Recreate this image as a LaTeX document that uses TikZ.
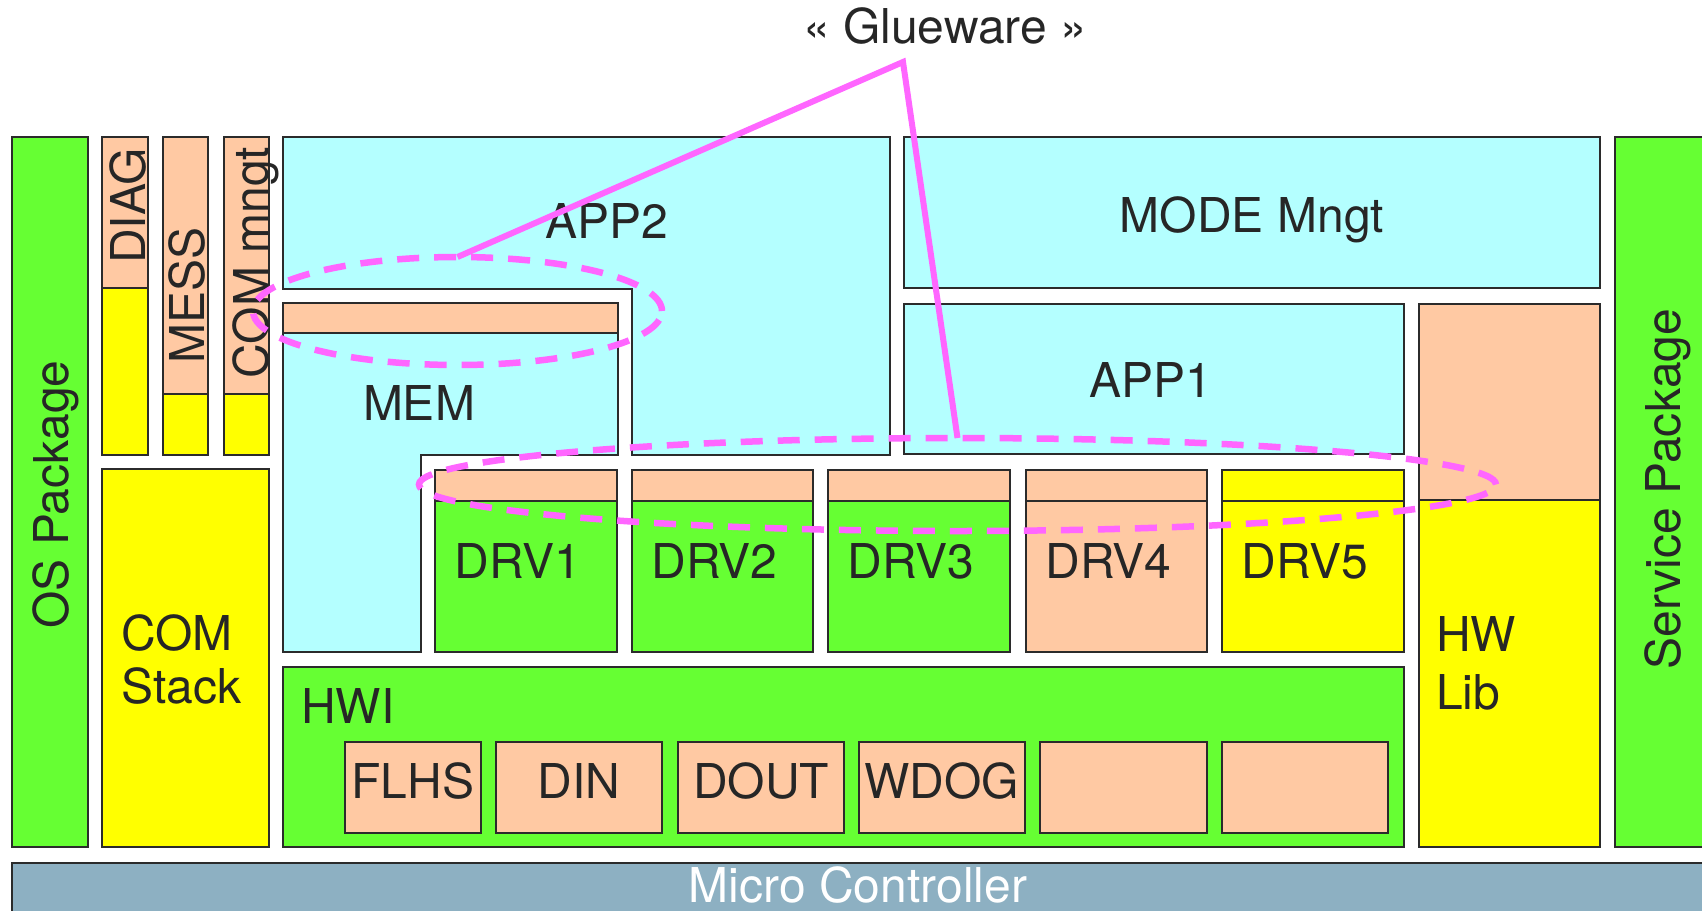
\documentclass[tikz,border=0pt]{standalone}
\usepackage{fontspec}
\setmainfont{TeX Gyre Heros}
\usetikzlibrary{shapes.geometric}

\definecolor{grn}{HTML}{66FF33}
\definecolor{slm}{HTML}{FFC9A3}
\definecolor{ylw}{HTML}{FFFF00}
\definecolor{cyn}{HTML}{B4FFFF}
\definecolor{mcu}{HTML}{8DB0C2}
\definecolor{edge}{HTML}{2B2B2B}
\definecolor{ink}{HTML}{262626}
\definecolor{glue}{HTML}{FF66FF}

\begin{document}
\begin{tikzpicture}[x=1pt,y=-1pt,
  blk/.style={draw=edge, line width=2.4pt, line join=miter},
  lbl/.style={text=ink, font=\fontsize{48}{54}\selectfont, inner sep=0pt},
  vlbl/.style={lbl, rotate=90, anchor=base},
  glueline/.style={draw=glue, line width=6pt},
  gluering/.style={ellipse, draw=glue, line width=6.5pt,
    dash pattern=on 22pt off 15pt, inner sep=0pt, outer sep=0pt},
]
\useasboundingbox (0,0) rectangle (1702,910);

% side packages
\path[blk, fill=grn] (12,137) rectangle (88,847);
\path[blk, fill=grn] (1615,137) rectangle (1712,847);

% DIAG / MESS / COM mngt columns
\path[blk, fill=slm] (102,137) rectangle (148,288);
\path[blk, fill=ylw] (102,288) rectangle (148,455);
\path[blk, fill=slm] (163,137) rectangle (208,394);
\path[blk, fill=ylw] (163,394) rectangle (208,455);
\path[blk, fill=slm] (224,137) rectangle (269,394);
\path[blk, fill=ylw] (224,394) rectangle (269,455);

% COM stack
\path[blk, fill=ylw] (102,469) rectangle (269,847);

% application layer
\path[blk, fill=cyn] (283,137) -- (890,137) -- (890,455) -- (632,455)
  -- (632,289) -- (283,289) -- cycle;
\path[blk, fill=cyn] (283,303) -- (618,303) -- (618,455) -- (421,455)
  -- (421,652) -- (283,652) -- cycle;
\path[blk, fill=slm] (283,303) rectangle (618,333);
\path[blk, fill=cyn] (904,137) rectangle (1600,288);
\path[blk, fill=cyn] (904,304) rectangle (1404,454);

% HW library
\path[blk, fill=slm] (1419,304) rectangle (1600,500);
\path[blk, fill=ylw] (1419,500) rectangle (1600,847);

% drivers
\foreach \xa/\xb/\ct/\cb/\name [count=\i] in
  {435/617/slm/grn/DRV1, 632/813/slm/grn/DRV2, 828/1010/slm/grn/DRV3,
   1026/1207/slm/slm/DRV4, 1222/1404/ylw/ylw/DRV5} {
  \path[blk, fill=\ct] (\xa,470) rectangle (\xb,501);
  \path[blk, fill=\cb] (\xa,501) rectangle (\xb,652);
  \node[lbl, anchor=base] (drv\i) at ({(\xa+\xb)/2-8},578) {\name};
}

% hardware interface
\path[blk, fill=grn] (283,667) rectangle (1404,847);
\foreach \xa/\xb in {345/481, 496/662, 678/844, 859/1025, 1040/1207, 1222/1388}
  \path[blk, fill=slm] (\xa,742) rectangle (\xb,833);
\foreach \xa/\xb/\name [count=\i] in {345/481/FLHS, 496/662/DIN, 678/844/DOUT, 859/1025/WDOG}
  \node[lbl, anchor=base] (hwi\i) at ({(\xa+\xb)/2},798) {\name};

% micro controller
\path[blk, fill=mcu] (12,863) rectangle (1712,914);

% labels
\node[vlbl] (oslbl) at (68,494.5) {OS Package};
\node[vlbl] (svclbl) at (1680,489) {Service Package};
\node[vlbl] (diaglbl) at (145,206) {DIAG};
\node[vlbl] (messlbl) at (204,295) {MESS};
\node[vlbl] (comlbl) at (268,262.5) {COM mngt};
\node[lbl, anchor=base west] (comstack1) at (121,650) {COM};
\node[lbl, anchor=base west] (comstack2) at (121,703) {Stack};
\node[lbl, anchor=base] (app2lbl) at (607,238) {APP2};
\node[lbl, anchor=base] (memlbl) at (419,420) {MEM};
\node[lbl, anchor=base] (modelbl) at (1252,232) {MODE Mngt};
\node[lbl, anchor=base] (app1lbl) at (1151,397) {APP1};
\node[lbl, anchor=base west] (hwlib1) at (1436,651) {HW};
\node[lbl, anchor=base west] (hwlib2) at (1436,709) {Lib};
\node[lbl, anchor=base west] (hwilbl) at (301,723) {HWI};
\node[lbl, text=white, anchor=base] (mculbl) at (858,902) {Micro Controller};

% glueware marking
\node[lbl, anchor=base] (gluelbl) at (945,43) {« Glueware »};
\node[gluering, minimum width=409pt, minimum height=108pt] (ring1) at (457.5,311) {};
\node[gluering, minimum width=1077pt, minimum height=93pt] (ring2) at (957.5,484.5) {};
\coordinate (apex) at (903,62);
\draw[glueline] (ring1.north) -- (apex) -- (ring2.north);
\end{tikzpicture}
\end{document}
